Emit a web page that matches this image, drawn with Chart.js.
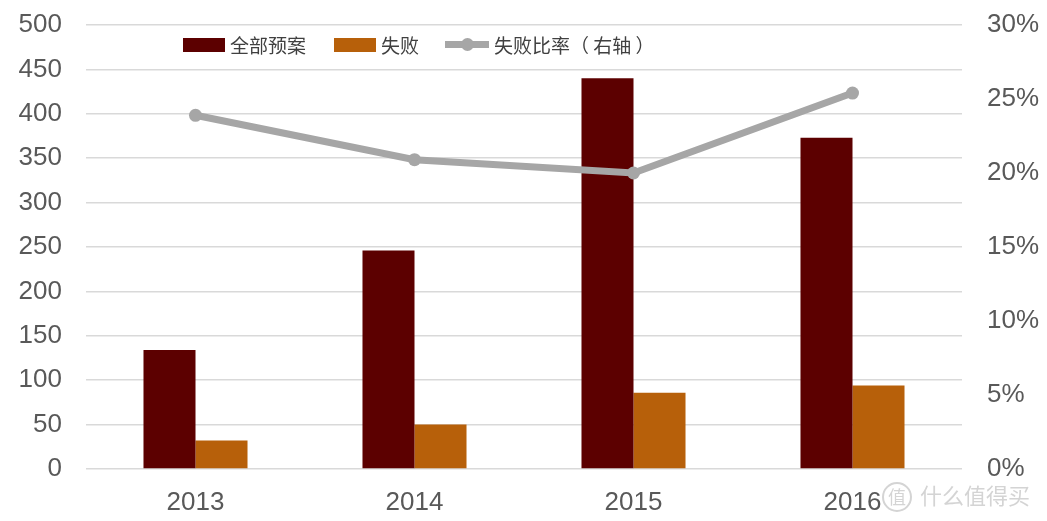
<!DOCTYPE html>
<html>
<head>
<meta charset="utf-8">
<script src="https://cdn.jsdelivr.net/npm/chart.js@4.4.1/dist/chart.umd.min.js"></script>
<style>
  html, body { margin: 0; padding: 0; background: #fff; }
  #wrap { position: relative; width: 1047px; height: 521px; }
  #legend { position: absolute; left: 183px; top: 31px; display: flex; align-items: center;
    font-family: "Noto Sans CJK SC", sans-serif; font-size: 19px; color: #404040; }
  #legend .item { display: flex; align-items: center; margin-right: 26px; }
  #legend .item:first-child { margin-right: 28px; }
  #legend .box { width: 42px; height: 14px; margin-right: 5px; }
  #legend .ln { position: relative; width: 44px; height: 7px; margin-right: 5px; }
  #legend .ln i { position: absolute; left: 16px; top: -3px; width: 13px; height: 13px; border-radius: 50%; }
  #mark { position: absolute; left: 882px; top: 478px; font-family: "Noto Sans CJK SC", sans-serif;
    font-size: 22px; color: #d4d4d4; white-space: nowrap; }
  #mark b { display: inline-block; width: 26px; height: 26px; line-height: 25px; text-align: center;
    border: 2px solid #d4d4d4; border-radius: 50%; font-weight: normal; font-size: 18px; margin-right: 8px; }
</style>
</head>
<body>
<div id="wrap">
  <canvas id="chart" width="1047" height="521"></canvas>
  <div id="legend"></div>
  <div id="mark"><b>值</b>什么值得买</div>
</div>
<script>
// categories and values
var years = ["2013", "2014", "2015", "2016"];
var allPlans = [134, 246, 440, 373];
var failed = [32, 50, 86, 94];
var failRate = [23.9, 20.9, 20.0, 25.4];
var leftTicks = [0, 50, 100, 150, 200, 250, 300, 350, 400, 450, 500];
var rightTicks = [0, 5, 10, 15, 20, 25, 30];

var tickFont = { family: "'Liberation Sans', Arial, sans-serif", size: 26 };
var tickColor = "#595959";

// fixed axis sizes so the plot area sits where it does in the picture
function fixWidth(w) {
  return function (s) {
    s.width = w;
    s.paddingTop = 0;
    s.paddingBottom = 0;
  };
}

var ctx = document.getElementById("chart").getContext("2d");
var chart = new Chart(ctx, {
  type: "bar",
  data: {
    labels: years,
    datasets: [
      {
        type: "line",
        label: "失败比率（ 右轴 ）",
        data: failRate,
        yAxisID: "y1",
        borderColor: "#a6a6a6",
        backgroundColor: "#a6a6a6",
        borderWidth: 7,
        pointRadius: 6.5,
        pointHoverRadius: 6.5,
        pointBackgroundColor: "#a6a6a6",
        pointBorderWidth: 0,
        tension: 0,
        order: 0,
      },
      {
        label: "全部预案",
        data: allPlans,
        backgroundColor: "#5c0000",
        yAxisID: "y",
        order: 1,
      },
      {
        label: "失败",
        data: failed,
        backgroundColor: "#b7600a",
        yAxisID: "y",
        order: 1,
      },
    ],
  },
  options: {
    responsive: false,
    animation: false,
    layout: { padding: { top: 25, left: 0, right: 0, bottom: 0 } },
    datasets: {
      bar: { categoryPercentage: 0.475, barPercentage: 1 },
    },
    plugins: {
      legend: { display: false },
      tooltip: { enabled: false },
    },
    scales: {
      x: {
        grid: { display: false, drawTicks: false },
        border: { display: false },
        ticks: { font: tickFont, color: tickColor, padding: 18 },
        afterFit: function (s) {
          s.height = 52;
          s.paddingLeft = 0;
          s.paddingRight = 0;
        },
      },
      y: {
        position: "left",
        min: 0,
        max: 500,
        afterBuildTicks: function (s) { s.ticks = leftTicks.map(function (v) { return { value: v }; }); },
        grid: { color: "#d9d9d9", lineWidth: 1.5, drawTicks: false },
        border: { display: false },
        ticks: { font: tickFont, color: tickColor, padding: 24 },
        afterFit: fixWidth(86),
      },
      y1: {
        position: "right",
        min: 0,
        max: 30,
        afterBuildTicks: function (s) { s.ticks = rightTicks.map(function (v) { return { value: v }; }); },
        grid: { drawOnChartArea: false, drawTicks: false },
        border: { display: false },
        ticks: {
          font: tickFont,
          color: tickColor,
          padding: 25,
          callback: function (v) { return v + "%"; },
        },
        afterFit: fixWidth(85),
      },
    },
  },
});

// legend built from the chart datasets, in the reference order
var legend = document.getElementById("legend");
[1, 2, 0].forEach(function (i) {
  var ds = chart.data.datasets[i];
  var item = document.createElement("div");
  item.className = "item";
  var sym = document.createElement("span");
  if (ds.type === "line") {
    sym.className = "ln";
    sym.style.background = ds.borderColor;
    var dot = document.createElement("i");
    dot.style.background = ds.borderColor;
    sym.appendChild(dot);
  } else {
    sym.className = "box";
    sym.style.background = ds.backgroundColor;
  }
  item.appendChild(sym);
  var txt = document.createElement("span");
  txt.textContent = ds.label;
  item.appendChild(txt);
  legend.appendChild(item);
});
</script>
</body>
</html>
